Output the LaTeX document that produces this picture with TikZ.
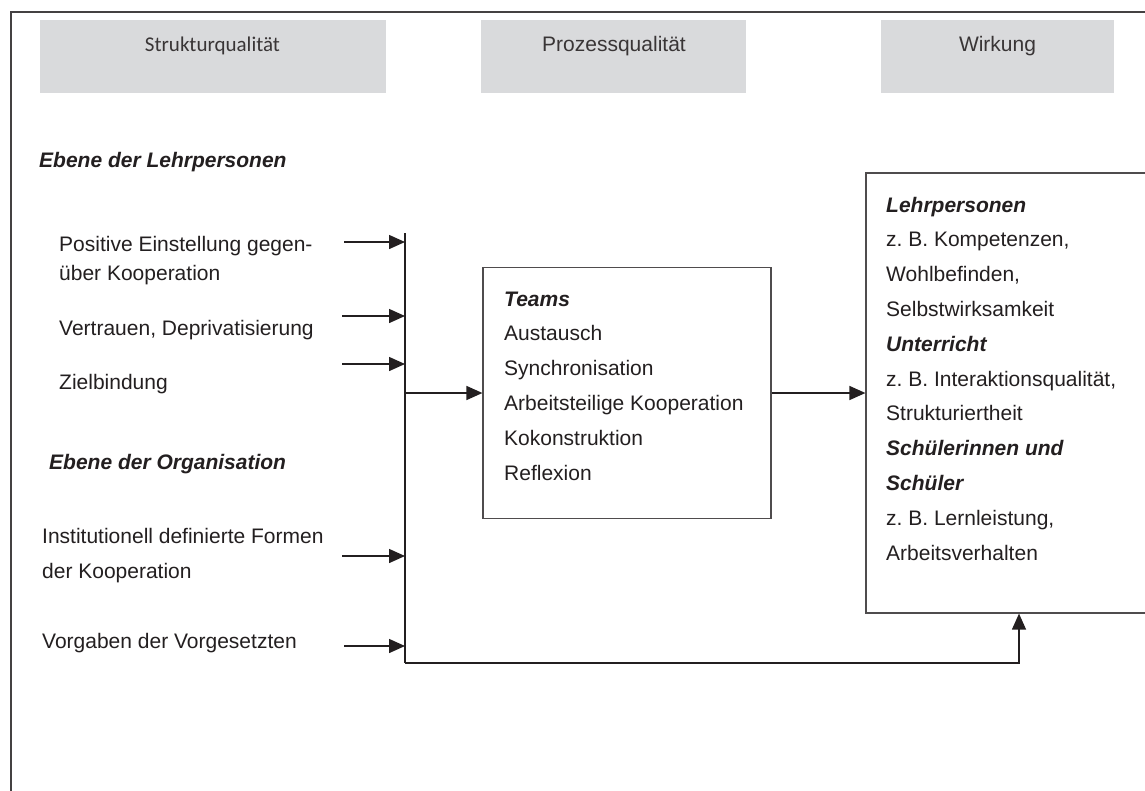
\documentclass[tikz,border=0pt]{standalone}
\usepackage{fontspec}
\setmainfont{Liberation Sans}
\newfontfamily\carl{Carlito}
\usetikzlibrary{arrows.meta}
\definecolor{ink}{HTML}{231F20}
\definecolor{hdrgray}{HTML}{D9DADC}
\frenchspacing
\tikzset{
 txt/.style={anchor=base west, inner sep=0pt, text=ink, font=\fontsize{21}{25}\selectfont},
 bi/.style={txt, font=\fontsize{21}{25}\selectfont\bfseries\itshape},
 hdr/.style={fill=hdrgray, draw=none, inner sep=0pt},
 hdrtxt/.style={anchor=base, inner sep=0pt, text=ink!90, font=\fontsize{21}{25}\selectfont},
 conn/.style={draw=ink, line width=1.5pt},
 arr/.style={conn, -{Triangle[length=16pt,width=14pt]}},
 box/.style={draw=ink!80, line width=1.2pt, inner sep=0pt, fill=white},
}
\begin{document}
\begin{tikzpicture}[x=1pt,y=-1pt]
\useasboundingbox (0,0) rectangle (1145,790);
\clip (0,0) rectangle (1145,790);
\fill[white] (0,0) rectangle (1145,790);
% outer frame
\draw[line width=2pt, ink!85] (11,800) -- (11,12) -- (1160,12);
% headers
\node[hdr, minimum width=346pt, minimum height=73pt] (h1) at (213,56.5) {};
\node[hdr, minimum width=265pt, minimum height=73pt] (h2) at (613.5,56.5) {};
\node[hdr, minimum width=233pt, minimum height=73pt] (h3) at (997.5,56.5) {};
\node[hdrtxt, font=\fontsize{21}{25}\selectfont\carl] (h1t) at (212.5,51) {Strukturqualität};
\node[hdrtxt] (h2t) at (614,51) {Prozessqualität};
\node[hdrtxt] (h3t) at (997.5,51) {Wirkung};
% left column texts
\node[bi] (el) at (39,167) {Ebene der Lehrpersonen};
\node[txt] (l1a) at (59,251) {Positive Einstellung gegen-};
\node[txt] (l1b) at (59,280) {über Kooperation};
\node[txt] (l2) at (59,335) {Vertrauen, Deprivatisierung};
\node[txt] (l3) at (59,389) {Zielbindung};
\node[bi] (eo) at (49,469) {Ebene der Organisation};
\node[txt] (l4a) at (42,543) {Institutionell definierte Formen};
\node[txt] (l4b) at (42,578) {der Kooperation};
\node[txt] (l5) at (42,648) {Vorgaben der Vorgesetzten};
% boxes
\node[box, minimum width=288pt, minimum height=251pt] (proz) at (627,393) {};
\node[box, minimum width=294pt, minimum height=440pt] (wirk) at (1013,393) {};
% middle box text
\foreach \t [count=\i from 0] in {{\bfseries\itshape Teams}, Austausch, Synchronisation, {Arbeitsteilige Kooperation}, Kokonstruktion, Reflexion}
  \node[txt] (m\i) at (504,306+34.8*\i) {\t};
% right box text
\foreach \t [count=\i from 0] in {{\bfseries\itshape Lehrpersonen}, {z. B. Kompetenzen,}, {Wohlbefinden,}, Selbstwirksamkeit, {\bfseries\itshape Unterricht}, {z. B. Interaktionsqualität,}, Strukturiertheit, {\bfseries\itshape Schülerinnen und}, {\bfseries\itshape Schüler}, {z. B. Lernleistung,}, Arbeitsverhalten}
  \node[txt] (r\i) at (886,212+34.8*\i) {\t};
% connectors
\coordinate (vtop) at (405,233);
\coordinate (vbot) at (405,663);
\draw[conn] (vtop) -- (vbot);
\coordinate (a1) at (344,242);
\coordinate (a2) at (342,316);
\coordinate (a3) at (342,364);
\coordinate (a4) at (342,556);
\coordinate (a5) at (344,646);
\foreach \a in {a1,a2,a3,a4,a5}
  \draw[arr] (\a) -- (\a -| vtop);
\coordinate (jb) at (vtop |- proz.west);
\draw[arr] (jb) -- (proz.west);
\draw[arr] (proz.east) -- (wirk.west);
\coordinate (xb) at (1019,663);
\draw[conn, line width=1.3pt, -{Triangle[length=16pt,width=14pt]}] (vbot) -- (xb) -- (xb |- wirk.south);
\end{tikzpicture}
\end{document}
